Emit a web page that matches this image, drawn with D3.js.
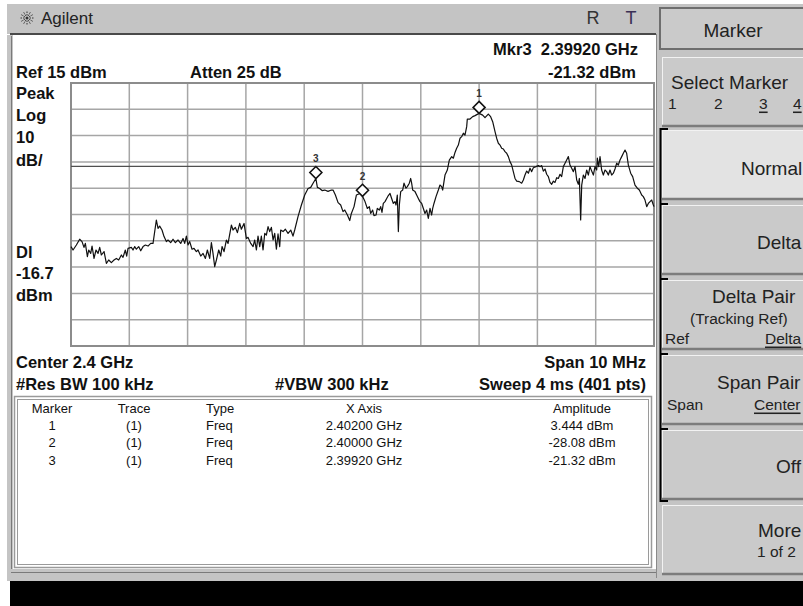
<!DOCTYPE html>
<html><head><meta charset="utf-8">
<script src="https://cdn.jsdelivr.net/npm/d3@7"></script>
<style>body{margin:0;background:#fff;} svg{display:block;font-family:"Liberation Sans",Arial,sans-serif;}</style>
</head><body><svg id="c" width="803" height="606"></svg>
<script>
// ---------- data ----------
const centerGHz = 2.4;
const spanMHz = 10;
const refLevelDbm = 15;
const dbPerDiv = 10;
const displayLineDbm = -16.7;
// trace: [offset from center (MHz), amplitude (dBm)]
const tracePoints = [
[-5.000,-47.2],[-4.965,-48.5],[-4.908,-46.6],[-4.851,-44.4],[-4.811,-45.3],[-4.777,-47.5],[-4.754,-46.0],[-4.719,-51.0],[-4.696,-48.5],[-4.662,-49.8],
[-4.639,-47.0],[-4.605,-51.7],[-4.571,-48.5],[-4.536,-49.8],[-4.508,-47.5],[-4.479,-50.4],[-4.433,-49.1],[-4.393,-53.6],[-4.353,-52.3],[-4.308,-53.3],
[-4.262,-52.3],[-4.222,-51.7],[-4.182,-52.3],[-4.136,-50.4],[-4.108,-51.3],[-4.068,-48.5],[-4.045,-50.8],[-4.022,-47.9],[-3.965,-47.5],[-3.936,-48.5],
[-3.907,-47.2],[-3.879,-48.2],[-3.839,-47.2],[-3.804,-48.8],[-3.764,-47.2],[-3.724,-46.6],[-3.679,-47.0],[-3.633,-46.0],[-3.593,-46.0],[-3.536,-37.1],
[-3.507,-40.3],[-3.479,-39.4],[-3.439,-40.9],[-3.404,-43.4],[-3.364,-45.3],[-3.336,-44.7],[-3.290,-45.7],[-3.250,-44.4],[-3.210,-45.7],[-3.164,-44.7],
[-3.118,-46.0],[-3.078,-44.1],[-3.050,-46.0],[-3.021,-43.2],[-2.993,-46.6],[-2.964,-45.3],[-2.924,-48.2],[-2.890,-47.9],[-2.850,-49.1],[-2.821,-48.5],
[-2.775,-50.8],[-2.735,-49.8],[-2.695,-51.7],[-2.661,-48.5],[-2.621,-51.7],[-2.592,-45.7],[-2.564,-49.8],[-2.535,-54.8],[-2.506,-52.3],[-2.466,-48.5],
[-2.432,-50.8],[-2.409,-47.2],[-2.375,-49.1],[-2.335,-44.7],[-2.306,-46.0],[-2.249,-39.0],[-2.221,-40.9],[-2.181,-39.9],[-2.146,-41.9],[-2.106,-38.4],
[-2.078,-40.6],[-2.032,-38.4],[-1.992,-44.1],[-1.963,-43.7],[-1.917,-46.0],[-1.877,-47.2],[-1.849,-44.7],[-1.820,-48.5],[-1.792,-43.2],[-1.763,-47.2],
[-1.735,-43.2],[-1.706,-48.5],[-1.677,-42.2],[-1.649,-42.8],[-1.620,-39.6],[-1.592,-41.5],[-1.563,-39.9],[-1.534,-44.7],[-1.506,-42.2],[-1.477,-48.2],
[-1.449,-42.4],[-1.420,-47.2],[-1.403,-40.9],[-1.363,-41.5],[-1.323,-40.6],[-1.277,-42.2],[-1.231,-40.9],[-1.192,-43.2],[-1.163,-40.9],[-1.106,-35.8],
[-1.048,-31.4],[-0.991,-27.6],[-0.934,-25.1],[-0.888,-24.7],[-0.848,-23.1],[-0.800,-21.32],[-0.774,-24.7],[-0.734,-25.1],[-0.694,-25.9],[-0.648,-25.7],
[-0.591,-26.2],[-0.534,-25.7],[-0.505,-25.7],[-0.465,-27.6],[-0.419,-30.5],[-0.374,-31.4],[-0.334,-33.9],[-0.305,-33.3],[-0.259,-35.2],[-0.219,-37.3],
[-0.191,-34.6],[-0.145,-32.0],[-0.105,-27.6],[-0.043,-27.0],[0.000,-28.08],[0.043,-30.1],[0.083,-32.7],[0.117,-32.0],[0.140,-34.6],[0.174,-33.3],
[0.197,-35.4],[0.232,-35.2],[0.254,-32.7],[0.289,-33.3],[0.312,-32.0],[0.334,-34.2],[0.357,-30.8],[0.386,-30.1],[0.415,-28.9],[0.443,-27.8],
[0.472,-27.0],[0.500,-28.9],[0.529,-30.8],[0.557,-30.1],[0.575,-31.4],[0.597,-27.6],[0.615,-41.5],[0.632,-31.4],[0.655,-26.3],[0.689,-25.7],
[0.712,-23.1],[0.746,-25.0],[0.769,-24.4],[0.803,-23.1],[0.826,-21.3],[0.843,-23.1],[0.861,-25.7],[0.901,-26.3],[0.929,-27.6],[0.958,-28.9],
[0.986,-30.1],[1.015,-30.8],[1.044,-32.7],[1.072,-34.6],[1.101,-33.3],[1.129,-36.5],[1.158,-32.7],[1.186,-35.2],[1.204,-32.7],[1.226,-30.8],
[1.261,-28.2],[1.301,-25.7],[1.329,-23.8],[1.358,-24.4],[1.375,-25.7],[1.415,-20.0],[1.455,-18.1],[1.489,-14.3],[1.530,-13.0],[1.558,-13.6],
[1.587,-11.4],[1.615,-9.8],[1.644,-8.6],[1.673,-6.0],[1.701,-5.4],[1.730,-4.1],[1.758,-4.8],[1.787,-1.6],[1.798,1.3],[1.844,1.3],
[1.890,2.2],[1.930,2.6],[2.000,3.444],[2.061,2.8],[2.101,1.8],[2.158,3.2],[2.198,2.2],[2.233,0.3],[2.273,-3.5],[2.301,-6.0],
[2.330,-7.9],[2.359,-8.6],[2.387,-9.8],[2.416,-10.1],[2.444,-11.1],[2.473,-11.7],[2.502,-13.0],[2.530,-14.9],[2.559,-16.2],[2.587,-18.7],
[2.616,-21.3],[2.645,-22.3],[2.690,-22.5],[2.730,-23.1],[2.759,-21.9],[2.787,-20.0],[2.816,-18.5],[2.845,-19.3],[2.873,-17.4],[2.902,-18.7],
[2.930,-17.2],[2.976,-16.8],[3.016,-16.4],[3.045,-16.8],[3.073,-16.4],[3.102,-18.5],[3.131,-17.7],[3.159,-19.7],[3.188,-20.6],[3.216,-22.8],
[3.245,-23.5],[3.274,-22.3],[3.302,-22.8],[3.331,-21.0],[3.359,-21.3],[3.388,-19.7],[3.416,-20.6],[3.445,-16.8],[3.474,-15.5],[3.502,-14.3],
[3.531,-13.0],[3.559,-16.2],[3.588,-17.4],[3.617,-18.7],[3.645,-16.8],[3.674,-21.9],[3.702,-23.5],[3.720,-21.3],[3.742,-37.1],[3.760,-23.8],
[3.788,-20.0],[3.817,-21.3],[3.845,-18.1],[3.874,-20.0],[3.902,-16.8],[3.931,-18.5],[3.960,-20.0],[3.988,-16.8],[4.017,-18.1],[4.028,-13.6],
[4.051,-16.8],[4.074,-13.0],[4.102,-18.1],[4.131,-20.0],[4.160,-18.1],[4.188,-18.7],[4.217,-20.0],[4.245,-18.1],[4.274,-20.0],[4.303,-19.3],
[4.331,-17.7],[4.360,-15.5],[4.388,-16.2],[4.417,-14.3],[4.446,-13.0],[4.474,-11.7],[4.503,-10.5],[4.531,-11.7],[4.560,-16.2],[4.600,-19.3],
[4.634,-20.6],[4.674,-23.8],[4.714,-25.0],[4.749,-25.7],[4.789,-27.6],[4.817,-28.2],[4.846,-29.5],[4.875,-32.0],[4.903,-30.8],[4.932,-30.1],
[4.960,-29.5],[4.989,-31.4],[5.000,-32.0]
];
const markerIds = ["1","2","3"];
const markerTraces = ["(1)","(1)","(1)"];
const markerTypes = ["Freq","Freq","Freq"];
const markerFreqGHz = [2.40200, 2.40000, 2.39920];
const markerAmpDbm = [3.444, -28.08, -21.32];
const markerFreqText = ["2.40200 GHz","2.40000 GHz","2.39920 GHz"];
const markerAmpText = ["3.444 dBm","-28.08 dBm","-21.32 dBm"];
const tableHeaders = ["Marker","Trace","Type","X Axis","Amplitude"];
const leftLabels = ["Peak","Log","10","dB/","Dl","-16.7","dBm"];
const softkeyTitles = ["Marker","Select Marker","Normal","Delta","Delta Pair","Span Pair","Off","More"];

// ---------- drawing ----------
const svg = d3.select("#c");
const W = 803, H = 606;
const gray = "#c4c4c4";
const BF = 16.5; // bold annotation font size

function txt(x, y, s, o = {}) {
  return svg.append("text").attr("x", x).attr("y", y).text(s)
    .attr("font-size", o.size || 16).attr("font-weight", o.bold ? "bold" : "normal")
    .attr("fill", o.fill || "#111").attr("text-anchor", o.anchor || "start")
    .attr("dominant-baseline", "central")
    .attr("text-decoration", o.underline ? "underline" : null);
}

svg.append("rect").attr("width", W).attr("height", H).attr("fill", "#fff");
// title bar
svg.append("rect").attr("x", 7).attr("y", 4).attr("width", 652).attr("height", 30).attr("fill", gray);
svg.append("line").attr("x1", 10).attr("x2", 659).attr("y1", 34).attr("y2", 34).attr("stroke", "#4a4a4a").attr("stroke-width", 2);
// frame left/bottom
svg.append("rect").attr("x", 7).attr("y", 35).attr("width", 6).attr("height", 546).attr("fill", gray);
svg.append("line").attr("x1", 11.5).attr("x2", 11.5).attr("y1", 36).attr("y2", 572).attr("stroke", "#7a7a7a");
svg.append("rect").attr("x", 7).attr("y", 569).attr("width", 652).attr("height", 12).attr("fill", gray);
svg.append("line").attr("x1", 11).attr("x2", 656).attr("y1", 572.5).attr("y2", 572.5).attr("stroke", "#7a7a7a");
svg.append("rect").attr("x", 13).attr("y", 36).attr("width", 642).attr("height", 533).attr("fill", "#fff");
svg.append("rect").attr("x", 10).attr("y", 581).attr("width", 793).attr("height", 25).attr("fill", "#000");
// right panel
svg.append("rect").attr("x", 656).attr("y", 4).attr("width", 147).attr("height", 577).attr("fill", gray);
svg.append("line").attr("x1", 656.5).attr("x2", 656.5).attr("y1", 34).attr("y2", 578).attr("stroke", "#8a8a8a");

// Agilent spark logo
const logo = svg.append("g").attr("transform", "translate(27,18)");
d3.range(12).forEach(i => {
  const a = i * Math.PI / 6;
  logo.append("line").attr("x1", Math.cos(a) * 2.5).attr("y1", Math.sin(a) * 2.5)
    .attr("x2", Math.cos(a) * 7).attr("y2", Math.sin(a) * 7)
    .attr("stroke", "#333").attr("stroke-width", 1).attr("stroke-dasharray", "1.5,1");
});
logo.append("circle").attr("r", 1.5).attr("fill", "#333");
txt(41, 18, "Agilent", {size: 17, fill: "#222"});
txt(593, 18, "R", {size: 18, fill: "#333", anchor: "middle"});
txt(631, 18, "T", {size: 18, fill: "#3a2f55", anchor: "middle"});

// header annotations
txt(638, 49, "Mkr3  2.39920 GHz", {bold: true, anchor: "end", size: BF}).style("white-space", "pre");
txt(636, 72, "-21.32 dBm", {bold: true, anchor: "end", size: BF});
txt(16, 72, "Ref 15 dBm", {bold: true, size: BF});
txt(190, 72, "Atten 25 dB", {bold: true, size: BF});
const leftY = [93, 115, 137, 160, 252, 273, 295];
leftLabels.forEach((s, i) => txt(16, leftY[i], s, {bold: true, size: BF}));

// graticule
const x = d3.scaleLinear().domain([centerGHz - spanMHz / 2000, centerGHz + spanMHz / 2000]).range([71, 654]);
const y = d3.scaleLinear().domain([refLevelDbm - 10 * dbPerDiv, refLevelDbm]).range([346, 83]);
const g = svg.append("g");
const xTicks = d3.range(11).map(i => x.domain()[0] + i * (spanMHz / 1000) / 10);
const yTicks = d3.range(11).map(i => refLevelDbm - i * dbPerDiv);
g.selectAll("line.v").data(xTicks).join("line").attr("class", "v")
  .attr("x1", d => x(d)).attr("x2", d => x(d)).attr("y1", y.range()[1]).attr("y2", y.range()[0])
  .attr("stroke", "#a6a6a6").attr("stroke-width", 1.5);
g.selectAll("line.h").data(yTicks).join("line").attr("class", "h")
  .attr("y1", d => y(d)).attr("y2", d => y(d)).attr("x1", x.range()[0]).attr("x2", x.range()[1])
  .attr("stroke", "#a6a6a6").attr("stroke-width", 1.5);
g.append("rect").attr("x", 71).attr("y", 83).attr("width", 583).attr("height", 263)
  .attr("fill", "none").attr("stroke", "#8c8c8c").attr("stroke-width", 2);
// display line
g.append("line").attr("x1", x.range()[0]).attr("x2", x.range()[1])
  .attr("y1", y(displayLineDbm)).attr("y2", y(displayLineDbm)).attr("stroke", "#505050").attr("stroke-width", 1.2);

// trace
const line = d3.line().x(d => x(centerGHz + d[0] / 1000)).y(d => y(d[1]));
svg.append("path").datum(tracePoints).attr("d", line).attr("fill", "none")
  .attr("stroke", "#111").attr("stroke-width", 1.2).attr("stroke-linejoin", "round");

// markers
markerIds.forEach((id, i) => {
  const mx = x(markerFreqGHz[i]), my = y(markerAmpDbm[i]);
  const s = 6;
  svg.append("path").attr("d", `M${mx},${my - 2 * s}L${mx + s},${my - s}L${mx},${my}L${mx - s},${my - s}Z`)
    .attr("fill", "#fff").attr("stroke", "#111").attr("stroke-width", 1.6);
  txt(mx, my - 2 * s - 8, id, {size: 10, bold: true, fill: "#333", anchor: "middle"});
});

// footer annotations
txt(16, 362, "Center 2.4 GHz", {bold: true, size: BF});
txt(646, 362, "Span 10 MHz", {bold: true, size: BF, anchor: "end"});
txt(16, 384, "#Res BW 100 kHz", {bold: true, size: BF});
txt(275, 384, "#VBW 300 kHz", {bold: true, size: BF});
txt(646, 384, "Sweep 4 ms (401 pts)", {bold: true, size: BF, anchor: "end"});

// marker table box
svg.append("rect").attr("x", 14.5).attr("y", 396.5).attr("width", 637).attr("height", 171)
  .attr("fill", "#fff").attr("stroke", "#9a9a9a").attr("stroke-width", 1.5);
svg.append("rect").attr("x", 17.5).attr("y", 399.5).attr("width", 631).attr("height", 165)
  .attr("fill", "none").attr("stroke", "#9a9a9a").attr("stroke-width", 1);
const colX = [52, 134, 206, 364, 582];
const colAnchor = ["middle", "middle", "start", "middle", "middle"];
tableHeaders.forEach((h, j) => txt(colX[j], 408, h, {size: 13, anchor: colAnchor[j]}));
const rowY = [425, 442, 460];
markerIds.forEach((id, i) => {
  const row = [id, markerTraces[i], markerTypes[i], markerFreqText[i], markerAmpText[i]];
  row.forEach((s, j) => txt(colX[j], rowY[i], s, {size: 13, anchor: colAnchor[j]}));
});

// softkeys
const keyTop = [57, 130, 205, 280, 355, 430, 505];
const keyH = 70;
// title box
svg.append("rect").attr("x", 660).attr("y", 8).attr("width", 146).attr("height", 41)
  .attr("fill", "#cacaca").attr("stroke", "#6e6e6e").attr("stroke-width", 2);
txt(733, 30, softkeyTitles[0], {size: 19, anchor: "middle", fill: "#222"});
keyTop.forEach((t, i) => {
  const fill = i === 1 ? "#e3e3e3" : "#cacaca";
  svg.append("rect").attr("x", 662).attr("y", t).attr("width", 145).attr("height", keyH).attr("fill", fill);
  svg.append("line").attr("x1", 662).attr("x2", 807).attr("y1", t + 0.5).attr("y2", t + 0.5).attr("stroke", "#f2f2f2");
  svg.append("line").attr("x1", 662.5).attr("x2", 662.5).attr("y1", t).attr("y2", t + keyH).attr("stroke", "#f2f2f2");
  svg.append("line").attr("x1", 662).attr("x2", 807).attr("y1", t + keyH - 1).attr("y2", t + keyH - 1).attr("stroke", "#7c7c7c").attr("stroke-width", 2.5);
});
// bracket
svg.append("path").attr("d", "M668,129H660.5V501H668").attr("fill", "none").attr("stroke", "#000").attr("stroke-width", 2);
[204, 279, 354, 429].forEach(t => svg.append("line").attr("x1", 660).attr("x2", 668).attr("y1", t).attr("y2", t).attr("stroke", "#000").attr("stroke-width", 2));

txt(671, 82, softkeyTitles[1], {size: 19, fill: "#222"});
[["1", 668, false], ["2", 714, false], ["3", 759, true], ["4", 793, true]].forEach(d =>
  txt(d[1], 103, d[0], {size: 15.5, fill: "#222", underline: d[2]}));
txt(741, 168, softkeyTitles[2], {size: 19, fill: "#222"});
txt(757, 242, softkeyTitles[3], {size: 19, fill: "#222"});
txt(712, 296, softkeyTitles[4], {size: 19, fill: "#222"});
txt(690, 318, "(Tracking Ref)", {size: 15.5, fill: "#222"});
txt(665, 338, "Ref", {size: 15.5, fill: "#222"});
txt(765, 338, "Delta", {size: 15.5, fill: "#222", underline: true});
txt(717, 382, softkeyTitles[5], {size: 19, fill: "#222"});
txt(667, 404, "Span", {size: 15.5, fill: "#222"});
txt(754, 404, "Center", {size: 15.5, fill: "#222", underline: true});
txt(776, 466, softkeyTitles[6], {size: 19, fill: "#222"});
txt(758, 530, softkeyTitles[7], {size: 19, fill: "#222"});
txt(757, 551, "1 of 2", {size: 15.5, fill: "#222"});
</script></body></html>
